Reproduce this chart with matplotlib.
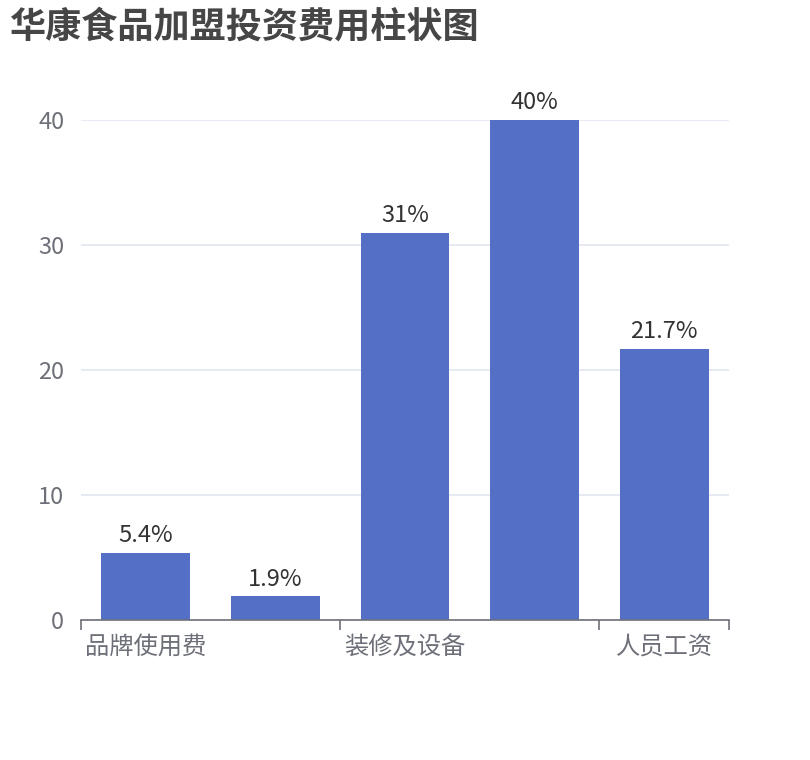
import matplotlib
matplotlib.use("Agg")
import matplotlib.pyplot as plt
import numpy as np

plt.rcParams["font.family"] = ["Noto Sans CJK SC", "DejaVu Sans"]

TITLE = "华康食品加盟投资费用柱状图"
CATEGORIES = ["品牌使用费", "加盟费", "装修及设备", "首批进货", "人员工资"]
VALUES = [5.4, 1.9, 31, 40, 21.7]
LABELS = ["5.4%", "1.9%", "31%", "40%", "21.7%"]
Y_TICKS = [0, 10, 20, 30, 40]

COLORS = {
    "bar": "#5470C6",
    "axis": "#6E7079",
    "grid": "#E0E6F1",
    "title": "#464646",
    "label": "#333333",
}

fig = plt.figure(figsize=(8.1, 7.6), dpi=100)
ax = fig.add_axes([81 / 810, 140 / 760, 648 / 810, 500 / 760])

x = np.arange(len(CATEGORIES))
bars = ax.bar(x, VALUES, width=0.685, color=COLORS["bar"], zorder=3)
for rect, text in zip(bars, LABELS):
    ax.annotate(
        text,
        (rect.get_x() + rect.get_width() / 2, rect.get_height()),
        xytext=(0, 4),
        textcoords="offset points",
        ha="center",
        va="bottom",
        fontsize=17,
        color=COLORS["label"],
    )

ax.set_xlim(-0.5, len(CATEGORIES) - 0.5)
ax.set_ylim(0, 40)
ax.set_yticks(Y_TICKS)
ax.yaxis.grid(True, color=COLORS["grid"], linewidth=1.2, zorder=0)
ax.tick_params(axis="y", length=0, pad=12, labelsize=17, labelcolor=COLORS["axis"])

# boundary ticks, label every other category like the original
ax.set_xticks([-0.5, 1.5, 3.5, 4.5])
ax.set_xticklabels([])
ax.set_xticks(x[::2], minor=True)
ax.set_xticklabels(CATEGORIES[::2], minor=True)
ax.tick_params(axis="x", which="major", length=7, width=1.2, color=COLORS["axis"])
ax.tick_params(axis="x", which="minor", length=0, pad=10, labelsize=17.5, labelcolor=COLORS["axis"])

for side in ["top", "right", "left"]:
    ax.spines[side].set_visible(False)
ax.spines["bottom"].set_color(COLORS["axis"])
ax.spines["bottom"].set_linewidth(1.2)
ax.spines["bottom"].set_zorder(4)

fig.text(10 / 810, 1 - 9 / 760, TITLE, ha="left", va="top", fontsize=26,
         fontweight="bold", color=COLORS["title"])

fig.savefig("out.png", dpi=100)
